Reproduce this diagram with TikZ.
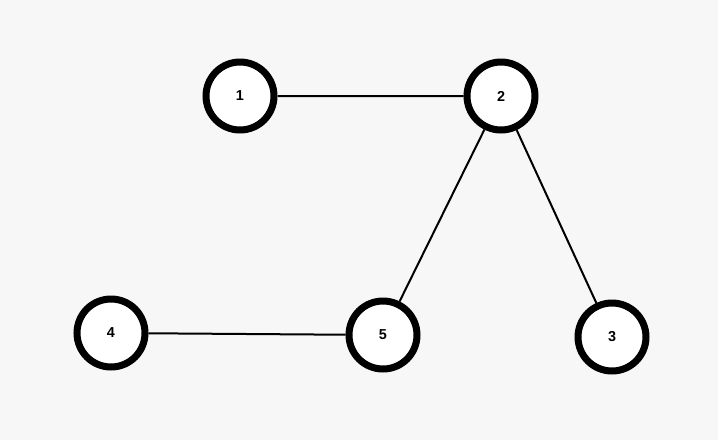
\documentclass[tikz,border=0pt]{standalone}
\usepackage{fontspec}
\setmainfont{Liberation Sans}
\definecolor{bgcol}{HTML}{F7F7F7}
\tikzset{vertex/.style={circle, draw=black, line width=7pt, fill=white, minimum size=68pt, inner sep=0pt, font=\Large\bfseries}}
\begin{document}
\begin{tikzpicture}[x=1pt, y=-1pt]
			\fill[bgcol] (0,0) rectangle (718,440);
			\node[vertex] (n1) at (240,96) {1};
			\node[vertex] (n2) at (501,96) {2};
			\node[vertex] (n4) at (111,333) {4};
			\node[vertex] (n5) at (383,335) {5};
			\node[vertex] (n3) at (612,337) {3};
			\draw[line width=2pt]
				(n1) -- (n2)
				(n2) -- (n5)
				(n2) -- (n3)
				(n4) -- (n5)
				;
		\end{tikzpicture}
\end{document}
